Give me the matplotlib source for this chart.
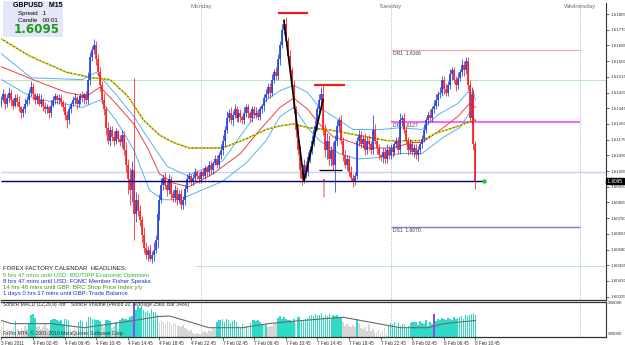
import matplotlib
matplotlib.use("Agg")
import matplotlib.pyplot as plt
import numpy as np

# ---------------- data ----------------
first_open = 1.6137
closes = [
    1.6139, 1.6142, 1.6137, 1.6140, 1.6143, 1.6139, 1.6136, 1.6140, 1.6138, 1.6135,
    1.6132, 1.6134, 1.6137, 1.6139, 1.6143, 1.6146, 1.6142, 1.6139, 1.6141, 1.6137,
    1.6139, 1.6136, 1.6134, 1.6135, 1.6132, 1.6136, 1.6139, 1.6141, 1.6139, 1.6140,
    1.6138, 1.6135, 1.6131, 1.6128, 1.6134, 1.6137, 1.6139, 1.6140, 1.6137, 1.6139,
    1.6141, 1.6140, 1.6142, 1.6139, 1.6150, 1.6162, 1.6166, 1.6169, 1.6161, 1.6154,
    1.6147, 1.6139, 1.6134, 1.6124, 1.6117, 1.6123, 1.6119, 1.6117, 1.6122, 1.6118,
    1.6116, 1.6120, 1.6112, 1.6104, 1.6096, 1.6090, 1.6101, 1.6077, 1.6085, 1.6079,
    1.6074, 1.6066, 1.6059, 1.6055, 1.6058, 1.6053, 1.6055, 1.6058, 1.6063, 1.6077,
    1.6085, 1.6093, 1.6097, 1.6093, 1.6090, 1.6096, 1.6088, 1.6086, 1.6090, 1.6085,
    1.6088, 1.6082, 1.6085, 1.6091, 1.6096, 1.6098, 1.6095, 1.6097, 1.6100, 1.6098,
    1.6096, 1.6100, 1.6098, 1.6102, 1.6100, 1.6104, 1.6101, 1.6105, 1.6107, 1.6104,
    1.6109, 1.6112, 1.6117, 1.6123, 1.6129, 1.6132, 1.6128, 1.6131, 1.6134, 1.6129,
    1.6132, 1.6130, 1.6128, 1.6132, 1.6135, 1.6132, 1.6129, 1.6134, 1.6131, 1.6132,
    1.6130, 1.6134, 1.6136, 1.6140, 1.6142, 1.6146, 1.6143, 1.6150, 1.6154, 1.6152,
    1.6161, 1.6169, 1.6177, 1.6180, 1.6171, 1.6163, 1.6155, 1.6147, 1.6134, 1.6123,
    1.6112, 1.6101, 1.6096, 1.6104, 1.6100, 1.6108, 1.6112, 1.6117, 1.6123, 1.6125,
    1.6134, 1.6139, 1.6142, 1.6123, 1.6112, 1.6117, 1.6107, 1.6112, 1.6104, 1.6117,
    1.6125, 1.6128, 1.6117, 1.6109, 1.6104, 1.6107, 1.6100, 1.6097, 1.6095, 1.6098,
    1.6117, 1.6120, 1.6115, 1.6118, 1.6112, 1.6117, 1.6115, 1.6112, 1.6123, 1.6117,
    1.6113, 1.6109, 1.6108, 1.6111, 1.6107, 1.6112, 1.6109, 1.6113, 1.6111, 1.6115,
    1.6117, 1.6112, 1.6128, 1.6129, 1.6123, 1.6117, 1.6112, 1.6115, 1.6111, 1.6113,
    1.6109, 1.6112, 1.6115, 1.6118, 1.6123, 1.6128, 1.6131, 1.6129, 1.6134, 1.6136,
    1.6139, 1.6142, 1.6143, 1.6150, 1.6145, 1.6143, 1.6147, 1.6153, 1.6155, 1.6150,
    1.6147, 1.6151, 1.6154, 1.6158, 1.6155, 1.6160, 1.6147, 1.6129, 1.6142, 1.6115,
    1.6095,
]
wick_up = [
    2, 3, 1, 2, 3, 2, 1, 2, 2, 3,   1, 2, 3, 2, 2, 3, 2, 1, 2, 2,
    3, 1, 2, 2, 1, 3, 2, 2, 1, 2,   2, 1, 3, 2, 2, 1, 2, 3, 1, 2,
    2, 3, 1, 2, 4, 3, 2, 3, 2, 3,   3, 2, 4, 2, 3, 2, 2, 3, 2, 1,
    2, 3, 2, 4, 3, 6, 5, 50, 4, 3,  3, 2, 4, 3, 2, 3, 2, 4, 3, 2,
    3, 4, 2, 3, 2, 3, 2, 2, 3, 2,   2, 3, 2, 2, 3, 2, 1, 2, 2, 1,
    2, 1, 2, 2, 1, 2, 2, 1, 2, 2,   2, 3, 3, 2, 4, 2, 3, 2, 3, 2,
    2, 2, 1, 3, 2, 2, 1, 2, 2, 3,   2, 2, 1, 2, 3, 2, 2, 3, 2, 3,
    3, 2, 3, 3, 4, 2, 3, 2, 3, 2,   3, 2, 2, 3, 2, 3, 2, 3, 2, 3,
    2, 3, 4, 5, 3, 4, 3, 2, 4, 3,   3, 2, 3, 2, 3, 2, 2, 3, 2, 2,
    2, 3, 2, 2, 3, 2, 3, 2, 8, 3,   2, 2, 1, 2, 2, 3, 2, 2, 1, 2,
    2, 2, 4, 2, 3, 2, 2, 3, 2, 2,   2, 2, 1, 2, 3, 2, 2, 3, 2, 3,
    3, 2, 3, 2, 2, 3, 2, 3, 2, 2,   2, 3, 2, 3, 2, 2, 2, 3, 4, 3,
    2,
]
wick_dn = [
    2, 1, 3, 2, 2, 3, 2, 1, 2, 2,   3, 2, 2, 1, 2, 2, 3, 2, 2, 1,
    2, 3, 2, 2, 3, 2, 1, 2, 2, 2,   2, 2, 3, 4, 2, 2, 1, 2, 3, 2,
    2, 2, 3, 2, 2, 3, 2, 2, 3, 2,   3, 2, 3, 4, 2, 3, 2, 3, 2, 2,
    2, 3, 3, 4, 8, 8, 6, 14, 4, 3,  3, 4, 3, 2, 3, 1, 2, 3, 2, 4,
    3, 2, 3, 2, 3, 2, 3, 2, 2, 3,   2, 2, 2, 3, 2, 2, 2, 2, 2, 2,
    2, 2, 1, 2, 2, 2, 2, 2, 1, 2,   2, 2, 3, 3, 2, 2, 2, 3, 2, 2,
    2, 3, 2, 2, 2, 3, 2, 2, 2, 2,   2, 2, 2, 3, 2, 2, 3, 2, 2, 2,
    2, 3, 2, 3, 3, 2, 3, 3, 2, 4,   3, 4, 3, 2, 3, 2, 3, 2, 3, 2,
    2, 2, 3, 3, 4, 5, 3, 4, 3, 15,  3, 3, 2, 3, 2, 3, 2, 2, 3, 2,
    2, 3, 2, 2, 3, 2, 3, 2, 2, 2,   3, 2, 2, 3, 2, 2, 2, 2, 3, 2,
    2, 2, 2, 3, 2, 2, 3, 2, 2, 3,   2, 3, 2, 2, 2, 2, 2, 2, 2, 2,
    2, 3, 2, 2, 3, 2, 2, 2, 3, 2,   3, 2, 2, 2, 3, 2, 3, 2, 3, 3,
    4,
]
volumes = [
    1500, 2400, 900, 1200, 800, 1100, 1600, 2500, 1300, 1000,
    1400, 900, 1700, 1200, 2200, 3400, 3600, 3000, 1500, 1800,
    1200, 1600, 2000, 1400, 1100, 2700, 2900, 2800, 2600, 2500,
    2700, 2100, 2800, 2900, 2700, 1300, 1100, 1500, 1200, 2400,
    2600, 2500, 1400, 2300, 3100, 3200, 2900, 2800, 2700, 2600,
    2500, 1800, 1500, 2600, 2700, 2500, 1400, 1700, 2300, 1300,
    2700, 3000, 2800, 2900, 2600, 3100, 3300, 9500, 4200, 4800,
    4500, 4900, 4300, 3900, 4100, 3800, 4400, 3900, 4000, 3500,
    2300, 2600, 2400, 2100, 2500, 2300, 1900, 2200, 2000, 1700,
    1800, 1600, 1900, 1400, 1200, 900, 1100, 700, 500, 600,
    400, 500, 800, 1000, 700, 1100, 900, 1400, 1300, 2300,
    2600, 2700, 2900, 2400, 2800, 2600, 2200, 2500, 2700, 2300,
    1800, 1600, 2100, 1500, 1700, 1400, 2200, 2600, 2700, 2500,
    2600, 2400, 2000, 1900, 2100, 1500, 1800, 1700, 2000, 2200,
    3000, 3300, 2900, 3100, 2800, 2700, 2600, 2500, 2900, 2200,
    3200, 3100, 2600, 2700, 2900, 3000, 3300, 3500, 3300, 3600,
    3400, 3500, 3700, 3200, 3400, 3300, 3600, 3000, 3400, 3300,
    3500, 3200, 3100, 2400, 1800, 2000, 1700, 1500, 1900, 1600,
    2800, 2200, 1400, 1200, 1500, 900, 2100, 1000, 1300, 700,
    800, 1100, 600, 900, 1400, 700, 1900, 2200, 2000, 2300,
    1600, 2200, 1700, 2000, 2100, 1500, 1800, 2200, 2300, 2400,
    2300, 1900, 2500, 2200, 2000, 2600, 1800, 2300, 2100, 3600,
    2500, 2900, 2700, 3000, 2800, 2600, 3000, 2900, 2700, 3100,
    2800, 3000, 3200, 3300, 2900, 3400, 3300, 3500, 3600, 3700,
    3500,
]
climax_bars = [67, 219]
vol_avg_bars = [0, 5, 25, 42, 67, 79, 85, 93, 105, 122, 135, 152, 173, 182, 202, 216, 224, 240]
vol_avg_vals = [2590, 2100, 2100, 1460, 2590, 3200, 3300, 2590, 1460, 1460, 2100, 2590, 3100, 2590, 1460, 1460, 2100, 2590]

yellow_bars = [0, 14, 18, 33, 46, 55, 64, 72, 80, 87, 95, 100, 112, 124, 134, 141, 148, 155,
               165, 175, 185, 195, 205, 213, 220, 229, 237, 240]
yellow_vals = [1.6172, 1.6163, 1.6161, 1.6154, 1.6151, 1.6150, 1.6141, 1.6128, 1.6120, 1.6116,
               1.6113, 1.6113, 1.6113, 1.6118, 1.6123, 1.6125, 1.6126, 1.6124, 1.6123, 1.6121,
               1.6119, 1.6117, 1.6117, 1.6117, 1.6121, 1.6124, 1.6127, 1.6128]
red_bars = [0, 16, 33, 43, 50, 58, 67, 74, 80, 87, 95, 107, 121, 131, 141, 148, 155, 161, 168,
            175, 185, 198, 208, 213, 220, 231, 237, 240]
red_vals = [1.6157, 1.6150, 1.6143, 1.6141, 1.6146, 1.6137, 1.6126, 1.6113, 1.6099, 1.6094,
            1.6092, 1.6099, 1.6110, 1.6123, 1.6135, 1.6140, 1.6134, 1.6126, 1.6119, 1.6117,
            1.6113, 1.6113, 1.6116, 1.6116, 1.6121, 1.6130, 1.6137, 1.6135]
upper_bars = [0, 15, 41, 48, 58, 67, 75, 84, 94, 101, 112, 124, 134, 141, 148, 155, 161, 171,
              178, 192, 202, 213, 221, 231, 236, 239, 240]
upper_vals = [1.6164, 1.6151, 1.6150, 1.6154, 1.6142, 1.6130, 1.6117, 1.6103, 1.6098, 1.6101,
              1.6106, 1.6124, 1.6139, 1.6144, 1.6147, 1.6143, 1.6135, 1.6128, 1.6123, 1.6123,
              1.6124, 1.6123, 1.6131, 1.6137, 1.6143, 1.6143, 1.6139]
lower_bars = [0, 16, 41, 50, 58, 67, 75, 82, 90, 101, 112, 124, 134, 141, 148, 155, 161, 171,
              180, 192, 202, 213, 224, 232, 237, 240]
lower_vals = [1.6150, 1.6140, 1.6135, 1.6139, 1.6128, 1.6112, 1.6090, 1.6085, 1.6085, 1.6090,
              1.6095, 1.6105, 1.6117, 1.6130, 1.6135, 1.6124, 1.6117, 1.6110, 1.6107, 1.6108,
              1.6110, 1.6110, 1.6119, 1.6124, 1.6132, 1.6128]

level_green_hi = 1.6150
level_lavender = 1.6100
level_green_lo = 1.6049
current_price = 1.6095
dr1, dp, ds1 = 1.6166, 1.6127, 1.6070
pivot_labels = ["DR1  1.6166", "DP  1.6127", "DS1  1.6070"]

price_ticks = [1.60325, 1.60410, 1.60495, 1.60580, 1.60665, 1.60750, 1.60835, 1.60920,
               1.61005, 1.61090, 1.61175, 1.61260, 1.61345, 1.61430, 1.61515, 1.61600,
               1.61685, 1.61770, 1.61855]
date_tick_bars = [0, 16, 32, 48, 64, 80, 96, 112, 128, 144, 160, 176, 192, 208, 224, 240]
date_tick_labels = ["3 Feb 2011", "4 Feb 02:45", "4 Feb 06:45", "4 Feb 10:45", "4 Feb 14:45",
                    "4 Feb 18:45", "4 Feb 22:45", "7 Feb 02:45", "7 Feb 06:45", "7 Feb 10:45",
                    "7 Feb 14:45", "7 Feb 18:45", "7 Feb 22:45", "8 Feb 02:45", "8 Feb 06:45",
                    "8 Feb 10:45"]
day_sep_bars = [101, 197, 293]
day_names = ["Monday", "Tuesday", "Wednesday"]

headlines = ["FOREX FACTORY CALENDAR  HEADLINES:",
             "5 hrs 47 mins until USD: IBD/TIPP Economic Optimism",
             "8 hrs 47 mins until USD: FOMC Member Fisher Speaks",
             "14 hrs 48 mins until GBP: BRC Shop Price Index y/y",
             "1 days 0 hrs 17 mins until GBP: Trade Balance"]
headline_colors = ["#202020", "#33b833", "#2a2ae0", "#3c9a00", "#2a2ae0"]

# ---------------- figure ----------------
W, H = 625, 345
fig = plt.figure(figsize=(6.25, 3.45), dpi=100)
fig.patch.set_facecolor("white")
FONT = "Liberation Sans"


def fx(px):
    return px / W


def fy(py):
    return 1 - py / H


XMIN, XMAX = -0.25, 306.1
ax = fig.add_axes([fx(1), fy(300), fx(606) - fx(1), fy(3) - fy(300)])
vax = fig.add_axes([fx(1), fy(337), fx(606) - fx(1), fy(302) - fy(337)])
for a in (ax, vax):
    a.set_xlim(XMIN, XMAX)
    a.set_facecolor("white")
    for s in ("top", "left"):
        a.spines[s].set_visible(False)
    a.spines["right"].set_color("#303030")
    a.spines["bottom"].set_color("#303030")
    a.spines["right"].set_linewidth(0.8)
    a.spines["bottom"].set_linewidth(0.9)
vax.spines["top"].set_visible(True)
vax.spines["top"].set_color("#303030")
vax.spines["top"].set_linewidth(0.9)

ax.set_ylim(1.60307, 1.61915)

# horizontal reference lines
ax.axhline(level_green_hi, color="#b8e8b8", lw=0.7, zorder=1)
ax.axhline(level_lavender, color="#cdd0f4", lw=1.0, zorder=1)
ax.hlines(level_green_lo, 98, XMAX, color="#b8e8b8", lw=0.7, zorder=1)
ax.hlines(dr1, day_sep_bars[1], day_sep_bars[2], color="#f2a8a8", lw=0.9, zorder=1)
ax.hlines(dp, day_sep_bars[1], day_sep_bars[2], color="#ff50ff", lw=1.3, zorder=1)
ax.hlines(ds1, day_sep_bars[1], day_sep_bars[2], color="#7878f0", lw=1.0, zorder=1)
for lvl, lab in zip((dr1, dp, ds1), pivot_labels):
    ax.text(day_sep_bars[1] + 1, lvl - 0.00004, lab, fontsize=3.6, family=FONT,
            color="#404040", va="top", ha="left", zorder=6)

# day separators
for b, name in zip(day_sep_bars, day_names):
    for a in (ax, vax):
        a.axvline(b, color="#a8a8a8", lw=0.6, ls=(0, (1.2, 1.6)), zorder=0)
    ax.text(b, 1.61915 - 0.00007, name, fontsize=4.4, family=FONT, color="#707070",
            ha="center", va="top")

# moving averages / bands
ax.plot(upper_bars, upper_vals, color="#5ab0f0", lw=0.7, zorder=3)
ax.plot(lower_bars, lower_vals, color="#5ab0f0", lw=0.7, zorder=3)
ax.plot(red_bars, red_vals, color="#f04040", lw=0.7, zorder=3)
ax.plot(yellow_bars, yellow_vals, color="#5a5200", lw=0.9, zorder=3)
ax.plot(yellow_bars, yellow_vals, color="#f4ee00", lw=0.9, ls=(0, (2.0, 1.0)), zorder=3)

# candles
opens = [first_open] + closes[:-1]
xs = list(range(len(closes)))
bull_c, bear_c = "#1f3fe0", "#ff1a1a"
for i in xs:
    o, c = opens[i], closes[i]
    top, bot = max(o, c), min(o, c)
    hi = top + wick_up[i] * 0.0001
    lo = bot - wick_dn[i] * 0.0001
    col = bull_c if c >= o else bear_c
    ax.vlines(i, lo, hi, color=col, lw=0.55, zorder=4)
    ax.vlines(i, bot, top if top > bot else bot + 0.00002, color=col, lw=1.2, zorder=4)

# user-drawn objects
ax.hlines(current_price, XMIN, 244.3, color="#000070", lw=1.0, zorder=5)
ax.plot([244.3], [current_price], "o", color="#22cc22", ms=2.2, zorder=6)
ax.hlines(1.6186, 140, 155.2, color="#ee1c1c", lw=1.6, zorder=5)
ax.hlines(1.6147, 158.2, 174, color="#ee1c1c", lw=1.6, zorder=5)
ax.hlines(1.6101, 161, 172.4, color="#000000", lw=0.9, zorder=5)
ax.plot([143, 153.2, 162.8], [1.6182, 1.6095, 1.6139], color="black", lw=1.2, zorder=5)
ax.annotate("", xy=(163.3, 1.6098), xytext=(163.3, 1.6085),
            arrowprops=dict(arrowstyle="-|>", color="#ee2020", lw=0.6,
                            mutation_scale=3), zorder=6)

# price axis
ax.yaxis.tick_right()
ax.set_yticks(price_ticks)
ax.set_yticklabels([f"{p:.5f}" for p in price_ticks])
ax.tick_params(axis="y", labelsize=3.2, length=2, width=0.5, pad=1,
               colors="#303030", direction="out")
for lab in ax.get_yticklabels():
    lab.set_family(FONT)
ax.set_xticks([])
ax.text(1.0, current_price, " 1.6095 ", transform=ax.get_yaxis_transform(),
        fontsize=3.4, family=FONT, color="white", va="center", ha="left",
        bbox=dict(boxstyle="square,pad=0.1", fc="black", ec="black"), zorder=10,
        clip_on=False)

# headlines
for k, (t, c) in enumerate(zip(headlines, headline_colors)):
    fig.text(fx(3), fy(269 + 6.2 * k), t, fontsize=4.3, family=FONT, color=c,
             va="center", ha="left")

# info box
fig.patches.append(plt.Rectangle((fx(3), fy(37)), fx(63) - fx(3), fy(1) - fy(37),
                                 transform=fig.transFigure, fc="#e6e6fa", ec="none",
                                 zorder=5))
fig.text(fx(13), fy(5.5), "GBPUSD   M15", fontsize=5.0, family=FONT, weight="bold",
         color="black", va="center", zorder=6)
fig.text(fx(18), fy(13.5), "Spread   1", fontsize=4.4, family=FONT, color="black",
         va="center", zorder=6)
fig.text(fx(18), fy(20), "Candle   00:01", fontsize=4.4, family=FONT, color="black",
         va="center", zorder=6)
fig.text(fx(14), fy(29.5), "1.6095", fontsize=8.6, family="DejaVu Sans", weight="bold",
         color="#1a9a1a", va="center", zorder=6)

# volume panel
vax.set_ylim(0, 5500)
avg_at_bar = np.interp(xs, vol_avg_bars, vol_avg_vals)
hi_x, hi_v, lo_x, lo_v, cl_x, cl_v = [], [], [], [], [], []
for i, v in enumerate(volumes):
    if i in climax_bars:
        cl_x.append(i)
        cl_v.append(v)
    elif v > avg_at_bar[i]:
        hi_x.append(i)
        hi_v.append(v)
    else:
        lo_x.append(i)
        lo_v.append(v)
vax.bar(lo_x, lo_v, width=0.75, color="#d6d6d6", linewidth=0, zorder=2)
vax.bar(hi_x, hi_v, width=0.8, color="#2edac8", linewidth=0, zorder=2)
vax.bar(cl_x, cl_v, width=0.9, color="#8a4ce8", linewidth=0, zorder=2)
vax.plot(vol_avg_bars, vol_avg_vals, color="#6a6a6a", lw=0.8, zorder=3)
vax.yaxis.tick_right()
vax.set_yticks([])
fig.text(fx(608), fy(303.5), "900000", fontsize=3.2, family=FONT, color="#303030",
         va="center")
fig.text(fx(608), fy(334), "900000", fontsize=3.2, family=FONT, color="#303030",
         va="center")
fig.text(fx(3), fy(304.5), "SonicR MACD (12,26,9) -off", fontsize=3.6, family=FONT,
         color="#303030", va="center")
fig.text(fx(71), fy(304.5), "SonicR Volume (Period 20, Average 2568, Bar 3466)",
         fontsize=3.6, family=FONT, color="#303030", va="center")
fig.text(fx(3), fy(333), "FxPro MT4, \u00a9 2001-2010 MetaQuotes Software Corp.",
         fontsize=3.6, family=FONT, color="#303030", va="center")

vax.set_xticks(date_tick_bars)
vax.set_xticklabels(date_tick_labels, ha="left")
vax.tick_params(axis="x", labelsize=3.3, length=2, width=0.5, pad=0.8,
                colors="#303030")
for lab in vax.get_xticklabels():
    lab.set_family(FONT)

fig.savefig("out.png", dpi=100, facecolor="white")
